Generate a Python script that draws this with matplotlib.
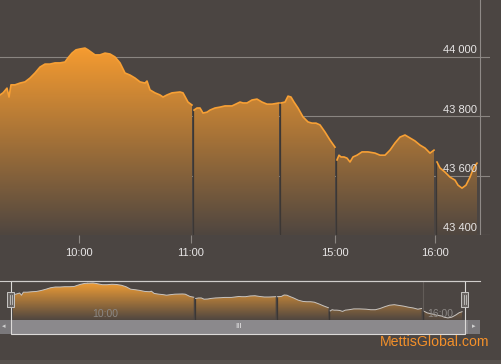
import numpy as np
import matplotlib
matplotlib.use('Agg')
import matplotlib.pyplot as plt
from matplotlib.colors import to_rgb
from matplotlib.patches import Rectangle

plt.rcParams['font.family'] = ['Liberation Sans', 'DejaVu Sans']

# ordinal position of each quote (trading time with breaks removed) and index value
pos = [0, 3, 7, 9, 11, 15, 20, 25, 30, 35, 40, 45, 50, 55, 60, 65, 68, 72, 76, 80,
       85, 88, 95, 100, 105, 110, 115, 120, 125, 130, 135, 140, 145, 147, 150, 155,
       160, 163, 167, 172, 180, 183, 188, 192,
       194, 197, 200, 203, 207, 210, 215, 220, 225, 232, 240, 243, 247, 252, 257,
       262, 267, 272, 279,
       281, 285, 288, 291, 294, 298, 303, 308, 312, 316, 320, 325, 330, 335,
       337, 339, 341, 344, 347, 350, 353, 357, 362, 368, 375, 380, 385, 390, 395,
       400, 405, 410, 415, 420, 425, 430, 434,
       437, 440, 445, 450, 455, 458, 462, 466, 470, 474, 477]
index = [43872, 43879, 43895, 43865, 43906, 43906, 43912, 43916, 43929, 43946,
         43966, 43976, 43976, 43980, 43980, 43983, 43997, 44013, 44024, 44027,
         44030, 44024, 44007, 44007, 44013, 44010, 44000, 43980, 43946, 43939,
         43929, 43916, 43912, 43919, 43889, 43879, 43872, 43865, 43872, 43879,
         43882, 43879, 43848, 43838,
         43821, 43828, 43828, 43811, 43814, 43821, 43828, 43831, 43835, 43835,
         43848, 43845, 43845, 43855, 43858, 43848, 43841, 43841, 43845,
         43845, 43848, 43868, 43865, 43848, 43828, 43798, 43781, 43777, 43777,
         43771, 43747, 43720, 43696,
         43653, 43669, 43663, 43663, 43659, 43646, 43663, 43669, 43680, 43680,
         43676, 43669, 43669, 43686, 43710, 43730, 43737, 43727, 43717, 43703,
         43693, 43676, 43686,
         43646, 43626, 43612, 43595, 43585, 43568, 43558, 43568, 43595, 43629, 43642]
breaks = [193, 280, 336, 436]
tick_pos = [79, 191, 335, 435]
tick_labels = ['10:00', '11:00', '15:00', '16:00']
y_ticks = [43400, 43600, 43800, 44000]
nav_ticks = [79, 435]
nav_labels = ['10:00', '16:00']

bg = '#4b4542'
orange = '#f7a035'
pos = np.array(pos, float)
index = np.array(index, float)
cuts = np.searchsorted(pos, breaks)
segments = np.split(np.arange(len(pos)), cuts)

W, H = 502, 364
fig = plt.figure(figsize=(W / 100, H / 100), dpi=100)
fig.patch.set_facecolor(bg)


def gradient_area(ax, x, y, base, top, c_top, c_bot, line_color, lw):
    n = 256
    t = np.linspace(0, 1, n)[:, None, None]
    ct, cb = np.array(to_rgb(c_top)), np.array(to_rgb(c_bot))
    img = cb + (ct - cb) * t
    for seg in segments:
        poly = ax.fill_between(x[seg], y[seg], base, facecolor='none', edgecolor='none')
        im = ax.imshow(img, extent=(x[seg][0], x[seg][-1], base, top), origin='lower',
                       aspect='auto', zorder=1, interpolation='bilinear')
        im.set_clip_path(poly.get_paths()[0], transform=ax.transData)
        ax.plot(x[seg], y[seg], color=line_color, lw=lw, zorder=3, solid_joinstyle='round')
    # session break gaps
    for b, c in zip(breaks, cuts):
        ax.vlines(b, base, min(y[c - 1], y[c]), color='#3c3734', lw=0.9, zorder=2)


# main chart
ax = fig.add_axes([0, 1 - 235 / H, 490 / W, 235 / H])
ax.set_facecolor(bg)
ax.set_xlim(0, 490)
ax.set_ylim(43400, 44192)
gradient_area(ax, pos, index, 43400, 44030, '#f59b30', '#4f4640', orange, 1.2)
for v in y_ticks:
    ax.axhline(v, color='#8a8581', lw=0.8, zorder=0.5)
    ax.text(477, v + 6, f'{v // 1000} {v % 1000:03d}', ha='right', va='bottom',
            fontsize=8, color='#e8e6e6', zorder=5)
ax.axvline(480, color='#8f8a87', lw=0.8, zorder=4)
ax.set_yticks([])
ax.set_xticks(tick_pos)
ax.set_xticklabels(tick_labels)
ax.tick_params(axis='x', colors='#8a8581', labelcolor='#e8e6e6', labelsize=8,
               length=6, width=0.8, pad=3)
for s in ax.spines.values():
    s.set_visible(False)

# navigator
nav = fig.add_axes([13 / W, 1 - 320 / H, 450 / W, 39 / H])
nav.set_facecolor(bg)
nav.set_xlim(0, 478)
nav.set_ylim(43530, 44057)
for p, lab in zip(nav_ticks, nav_labels):
    nav.axvline(p, color='#625c58', lw=0.8, zorder=0.5)
    nav.text(p + 5, 43610, lab, fontsize=7.5, color='#8c8885', va='center', zorder=5)
gradient_area(nav, pos, index, 43530, 44057, '#f5a035', '#4f4640', '#c8c4c0', 0.7)
nav.set_xticks([])
nav.set_yticks([])
for s in nav.spines.values():
    s.set_visible(False)

# overlay in pixel coordinates for scrollbar, frame and credit
ov = fig.add_axes([0, 0, 1, 1], facecolor='none')
ov.set_xlim(0, W)
ov.set_ylim(H, 0)
ov.axis('off')
ov.add_patch(Rectangle((0, 320), 480, 14, facecolor='#8b898c', edgecolor='none'))
ov.add_patch(Rectangle((0, 320), 11, 14, facecolor='#7a787b', edgecolor='none'))
ov.add_patch(Rectangle((468, 320), 12, 14, facecolor='#7a787b', edgecolor='none'))
ov.text(4, 327, '◂', fontsize=5, color='#d0d0d0', ha='center', va='center')
ov.text(474, 327, '▸', fontsize=5, color='#d0d0d0', ha='center', va='center')
ov.text(238, 327, 'III', fontsize=5.5, color='#f0f0f0', ha='center', va='center')
ov.plot([0, 480], [281, 281], color='#d0cdcb', lw=0.8)
ov.add_patch(Rectangle((11, 281), 454, 53, facecolor='none', edgecolor='#dcdad8', lw=0.8))
for hx in (11, 465):
    ov.add_patch(Rectangle((hx - 3.5, 292), 7, 15, facecolor='#6a6562',
                           edgecolor='#c8c6c4', lw=0.7))
    ov.plot([hx - 1, hx - 1], [295, 304], color='#c8c6c4', lw=0.6)
    ov.plot([hx + 1, hx + 1], [295, 304], color='#c8c6c4', lw=0.6)
ov.add_patch(Rectangle((0, 360), W, 4, facecolor='#57514d', edgecolor='none'))
ov.text(489, 342, 'MettisGlobal.com', fontsize=10.2, color='#f3902a',
        ha='right', va='center')

fig.savefig('out.png', dpi=100, facecolor=bg)
